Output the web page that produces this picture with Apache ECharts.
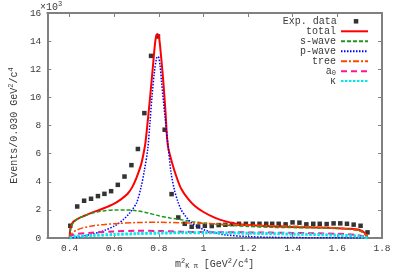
<!DOCTYPE html>
<html><head><meta charset="utf-8">
<script src="https://cdn.jsdelivr.net/npm/echarts@6/dist/echarts.min.js"></script>
<style>html,body{margin:0;padding:0;background:#fff}#c{width:400px;height:280px}</style>
</head><body><div id="c"></div>
<script>
// ---- data (y in units of 10^3 events) ----
const xTicks = [0.4, 0.6, 0.8, 1, 1.2, 1.4, 1.6, 1.8];
const yTicks = [0, 2, 4, 6, 8, 10, 12, 14, 16];

const dataX = [0.403,0.434,0.465,0.496,0.527,0.556,0.586,0.616,0.646,0.677,0.706,0.735,0.765,0.796,0.826,0.857,0.887,0.916,0.947,0.976,1.006,1.037,1.068,1.098,1.128,1.159,1.19,1.221,1.251,1.281,1.308,1.337,1.368,1.399,1.43,1.461,1.492,1.521,1.552,1.583,1.613,1.643,1.673,1.704,1.735];
const dataY = [0.87,2.24,2.65,2.79,2.98,3.14,3.33,3.78,4.37,5.18,6.33,8.88,12.95,14.33,7.70,3.12,1.46,1.01,0.80,0.82,0.87,0.85,0.92,0.94,0.99,1.01,1.01,1.01,1.01,1.01,1.01,1.01,0.97,1.11,1.09,0.97,1.01,1.01,0.99,1.04,1.04,1.01,0.95,0.87,0.40];

const totalX = [0.400,0.402,0.406,0.412,0.42,0.44,0.47,0.50,0.55,0.60,0.63,0.66,0.68,0.70,0.72,0.73,0.74,0.76,0.775,0.785,0.793,0.80,0.81,0.82,0.83,0.84,0.86,0.88,0.90,0.93,0.96,1.00,1.05,1.10,1.15,1.20,1.30,1.40,1.50,1.60,1.65,1.70,1.72,1.735];
const totalY = [0,0.5,0.85,1.05,1.2,1.4,1.6,1.8,2.1,2.45,2.75,3.15,3.6,4.3,5.2,5.9,6.8,9.9,12.5,14.1,14.5,14.35,12.9,11.1,8.9,6.6,5.3,4.3,3.5,2.8,2.3,1.85,1.45,1.18,1.0,0.92,0.83,0.78,0.75,0.70,0.66,0.57,0.40,0.08];

const sWaveX = [0.400,0.403,0.41,0.42,0.44,0.47,0.50,0.55,0.60,0.65,0.70,0.75,0.80,0.85,0.90,0.95,1.00,1.05,1.10,1.20,1.30,1.40,1.50,1.60,1.65,1.70,1.72,1.735];
const sWaveY = [0,0.5,0.9,1.15,1.4,1.6,1.76,1.92,2.0,2.0,1.94,1.78,1.58,1.43,1.3,1.16,1.07,0.99,0.92,0.82,0.76,0.74,0.72,0.68,0.63,0.5,0.32,0.05];

const pWaveX = [0.400,0.45,0.50,0.55,0.60,0.64,0.67,0.70,0.72,0.735,0.75,0.76,0.77,0.78,0.79,0.797,0.805,0.812,0.827,0.841,0.855,0.87,0.885,0.90,0.915,0.945,1.00,1.05,1.10,1.20,1.30,1.50,1.735];
const pWaveY = [0,0.1,0.28,0.5,0.85,1.3,1.8,2.5,3.6,4.8,6.3,8.2,10.2,11.8,12.8,12.9,12.3,11.1,8.7,6.6,4.6,3.4,2.6,2.0,1.65,1.1,0.6,0.38,0.22,0.1,0.05,0.02,0];

const treeX = [0.400,0.405,0.415,0.43,0.46,0.50,0.55,0.60,0.70,0.80,0.90,1.00,1.10,1.20,1.30,1.40,1.50,1.60,1.65,1.70,1.72,1.735];
const treeY = [0,0.2,0.4,0.55,0.72,0.85,0.95,1.02,1.1,1.12,1.08,1.04,0.97,0.92,0.88,0.84,0.79,0.71,0.65,0.52,0.33,0.05];

const a0X = [0.400,0.41,0.43,0.50,0.60,0.70,0.80,0.90,1.00,1.20,1.40,1.60,1.68,1.72,1.735];
const a0Y = [0,0.18,0.28,0.38,0.46,0.52,0.5,0.45,0.42,0.4,0.36,0.3,0.22,0.1,0];

const kappaX = [0.400,0.42,0.50,0.60,0.70,0.80,0.90,1.00,1.20,1.40,1.60,1.70,1.735];
const kappaY = [0,0.1,0.18,0.25,0.31,0.35,0.37,0.37,0.34,0.28,0.2,0.12,0];

const names = ['Exp. data','total','s-wave','p-wave','tree','a0','κ'];
// -------------------------------------------

const F = 'Liberation Mono';
const zip = (xs, ys) => xs.map((x, i) => [x, ys[i]]);
const axisColor = '#808080';
const txt = '#3a3a3a';

function lineSeries(name, xs, ys, color, width, type) {
  return {
    name, type: 'line', data: zip(xs, ys), showSymbol: false, symbol: 'none',
    smooth: 0.3, animation: false,
    lineStyle: { color, width, type, cap: 'butt' }, itemStyle: { color: 'rgba(0,0,0,0)' }
  };
}

const legendRows = [21.3, 31.3, 41.3, 51.3, 61.3, 71.2, 81];
const legends = names.map((n, i) => {
  const isData = i === 0;
  const lg = {
    data: [n], orient: 'horizontal', align: 'right', selectedMode: false,
    right: isData ? 41.7 : 31, top: legendRows[i] - 5, padding: 0, itemGap: 0,
    itemWidth: isData ? 4.5 : 27, itemHeight: isData ? 4.5 : 8,
    textStyle: {
      fontFamily: F, fontSize: 10, color: txt, lineHeight: 10,
      rich: {
        t: { fontFamily: F, fontSize: 10, color: txt, lineHeight: 10, padding: [0, 12, 0, 0] },
        n: { fontFamily: F, fontSize: 10, color: txt, lineHeight: 10 },
        s: { fontFamily: F, fontSize: 7, color: txt, lineHeight: 4, verticalAlign: 'bottom' }
      }
    }
  };
  if (!isData) lg.itemStyle = { opacity: 0 };
  if (isData) lg.formatter = '{t|Exp. data}';
  if (n === 'a0') lg.formatter = '{n|a}{s|0}';
  return lg;
});

const chart = echarts.init(document.getElementById('c'), null, { renderer: 'canvas' });
chart.setOption({
  animation: false,
  backgroundColor: '#fff',
  title: {
    text: '{a|×10}{b|3}', left: 40, top: 1, padding: 0,
    textStyle: { fontWeight: 'normal', rich: {
      a: { fontFamily: F, fontSize: 10, color: txt, lineHeight: 12, fontWeight: 'normal' },
      b: { fontFamily: F, fontSize: 7, color: txt, lineHeight: 6, verticalAlign: 'top', fontWeight: 'normal' }
    } }
  },
  legend: legends,
  grid: { left: 40.5, right: 18, top: 13, bottom: 42, containLabel: false },
  xAxis: [{
    type: 'value', min: 0.3, max: 1.8,
    axisLine: { onZero: false, lineStyle: { color: axisColor, width: 2 } },
    axisTick: { inside: true, length: 4, customValues: xTicks, lineStyle: { color: axisColor } },
    axisLabel: { customValues: xTicks, fontFamily: F, fontSize: 9.5, color: txt, margin: 5 },
    splitLine: { show: false },
    name: '{m|m}{sp|2}{sb|K π}{m| [GeV}{sp|2}{m|/c}{sp|4}{m|]}',
    nameLocation: 'middle', nameGap: 16,
    nameTextStyle: { rich: {
      m: { fontFamily: F, fontSize: 10, color: txt, lineHeight: 12 },
      sp: { fontFamily: F, fontSize: 7, color: txt, lineHeight: 6, verticalAlign: 'top' },
      sb: { fontFamily: F, fontSize: 7, color: txt, lineHeight: 5, verticalAlign: 'bottom' }
    } }
  }, {
    type: 'value', min: 0.3, max: 1.8, position: 'top',
    axisLine: { onZero: false, lineStyle: { color: axisColor, width: 2 } },
    axisTick: { inside: true, length: 4, customValues: xTicks, lineStyle: { color: axisColor } },
    axisLabel: { show: false }, splitLine: { show: false }
  }],
  yAxis: [{
    type: 'value', min: 0, max: 16, interval: 2,
    axisLine: { show: true, onZero: false, lineStyle: { color: axisColor, width: 2 } },
    axisTick: { show: true, inside: true, length: 4, lineStyle: { color: axisColor } },
    axisLabel: { fontFamily: F, fontSize: 9.5, color: txt, margin: 6,
      formatter: v => yTicks.includes(v) ? String(v) : '' },
    splitLine: { show: false },
    name: '{m|Events/0.030 GeV}{sp|2}{m|/c}{sp|4}',
    nameLocation: 'middle', nameGap: 26,
    nameTextStyle: { rich: {
      m: { fontFamily: F, fontSize: 10, color: txt, lineHeight: 12 },
      sp: { fontFamily: F, fontSize: 7, color: txt, lineHeight: 6, verticalAlign: 'top' }
    } }
  }, {
    type: 'value', min: 0, max: 16, interval: 2, position: 'right',
    axisLine: { show: true, onZero: false, lineStyle: { color: axisColor, width: 2 } },
    axisTick: { show: true, inside: true, length: 4, lineStyle: { color: axisColor } },
    axisLabel: { show: false }, splitLine: { show: false }
  }],
  series: [
    { name: 'Exp. data', type: 'scatter', data: zip(dataX, dataY), symbol: 'rect', symbolSize: 4.5,
      itemStyle: { color: '#000' }, animation: false },
    lineSeries('total', totalX, totalY, '#ff0000', 2, 'solid'),
    lineSeries('s-wave', sWaveX, sWaveY, '#1e991e', 1.5, [4, 2]),
    lineSeries('p-wave', pWaveX, pWaveY, '#0000ff', 1.5, [1.5, 1.5]),
    lineSeries('tree', treeX, treeY, '#ff4500', 1.5, [6, 2, 2, 2]),
    lineSeries('a0', a0X, a0Y, '#ff1493', 2, [6, 4]),
    lineSeries('κ', kappaX, kappaY, '#00e8ee', 3, [2.5, 1.5])
  ]
});
</script></body></html>
